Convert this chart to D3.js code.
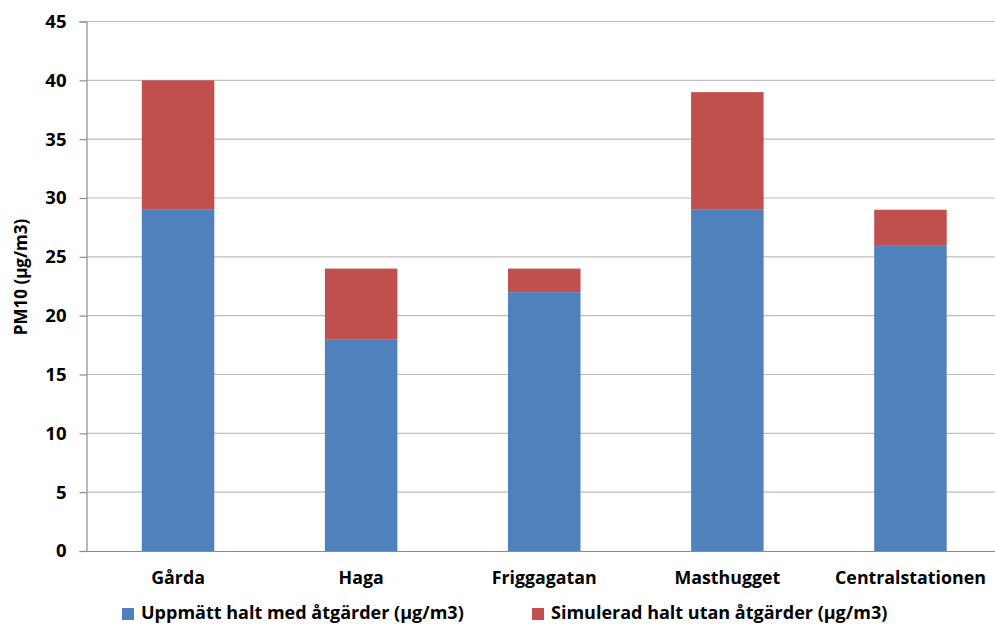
<!DOCTYPE html>
<html>
<head>
<meta charset="utf-8">
<script src="https://cdn.jsdelivr.net/npm/d3@7"></script>
<style>
  html, body { margin: 0; padding: 0; background: #fff; }
  svg { display: block; }
  text { font-family: "Open Sans", sans-serif; font-weight: bold; fill: #000; }
</style>
</head>
<body>
<svg id="chart" width="995" height="625"></svg>
<script>
// PM10 per station: measured level with measures, plus simulated extra without measures
const categories = ["Gårda", "Haga", "Friggagatan", "Masthugget", "Centralstationen"];
const measured = [29, 18, 22, 29, 26];
const simulatedExtra = [11, 6, 2, 10, 3];
const yTicks = [0, 5, 10, 15, 20, 25, 30, 35, 40, 45];
const seriesNames = ["Uppmätt halt med åtgärder (µg/m3)", "Simulerad halt utan åtgärder (µg/m3)"];
const seriesColors = ["#4F81BD", "#C0504D"];
const yTitle = "PM10 (µg/m3)";

const svg = d3.select("#chart");
const plot = { left: 86.5, right: 1002, top: 21.5, bottom: 551 };
const font = "'Open Sans', sans-serif";

const x = d3.scaleBand().domain(categories).range([plot.left, plot.right]).padding(0);
const y = d3.scaleLinear().domain([0, 45]).range([plot.bottom, plot.top]);
const barW = x.bandwidth() * 0.396;

// horizontal gridlines
svg.append("g")
  .selectAll("line")
  .data(yTicks.filter(d => d > 0))
  .join("line")
  .attr("x1", plot.left).attr("x2", plot.right)
  .attr("y1", d => y(d)).attr("y2", d => y(d))
  .attr("stroke", "#bdbdbd").attr("stroke-width", 1.2);

// stacked bars
const stackData = categories.map((c, i) => ({ cat: c, s0: measured[i], s1: simulatedExtra[i] }));
const stack = d3.stack().keys(["s0", "s1"])(stackData);

svg.append("g")
  .selectAll("g")
  .data(stack)
  .join("g")
  .attr("fill", (d, i) => seriesColors[i])
  .selectAll("rect")
  .data(d => d)
  .join("rect")
  .attr("x", d => x(d.data.cat) + (x.bandwidth() - barW) / 2)
  .attr("width", barW)
  .attr("y", d => y(d[1]))
  .attr("height", d => y(d[0]) - y(d[1]));

// y axis
const yAxis = d3.axisLeft(y).tickValues(yTicks).tickSize(7).tickPadding(13);
const gy = svg.append("g").attr("transform", `translate(${plot.left},0)`).call(yAxis);
gy.select(".domain").attr("stroke", "#8c8c8c").attr("stroke-width", 1.2);
gy.selectAll(".tick line").attr("stroke", "#8c8c8c").attr("stroke-width", 1.2);
gy.selectAll(".tick text").style("font-size", "18.5px").style("font-family", font).style("font-weight", "bold").attr("fill", "#000");

// x axis baseline and labels
const xAxis = d3.axisBottom(x).tickSize(0).tickPadding(20);
const gx = svg.append("g").attr("transform", `translate(0,${plot.bottom})`).call(xAxis);
gx.select(".domain").attr("stroke", "#8c8c8c").attr("stroke-width", 1.2);
gx.selectAll(".tick text").style("font-size", "17.8px").style("font-family", font).style("font-weight", "bold").attr("fill", "#000");

// y axis title
svg.append("text")
  .attr("transform", "translate(27,277) rotate(-90)")
  .attr("text-anchor", "middle")
  .style("font-size", "17px")
  .text(yTitle);

// legend
const legendX = [122, 532];
const legend = svg.append("g");
seriesNames.forEach((name, i) => {
  legend.append("rect")
    .attr("x", legendX[i]).attr("y", 608)
    .attr("width", 12).attr("height", 12)
    .attr("fill", seriesColors[i]);
  legend.append("text")
    .attr("x", legendX[i] + 19).attr("y", 619)
    .style("font-size", "18px")
    .text(name);
});
</script>
</body>
</html>
